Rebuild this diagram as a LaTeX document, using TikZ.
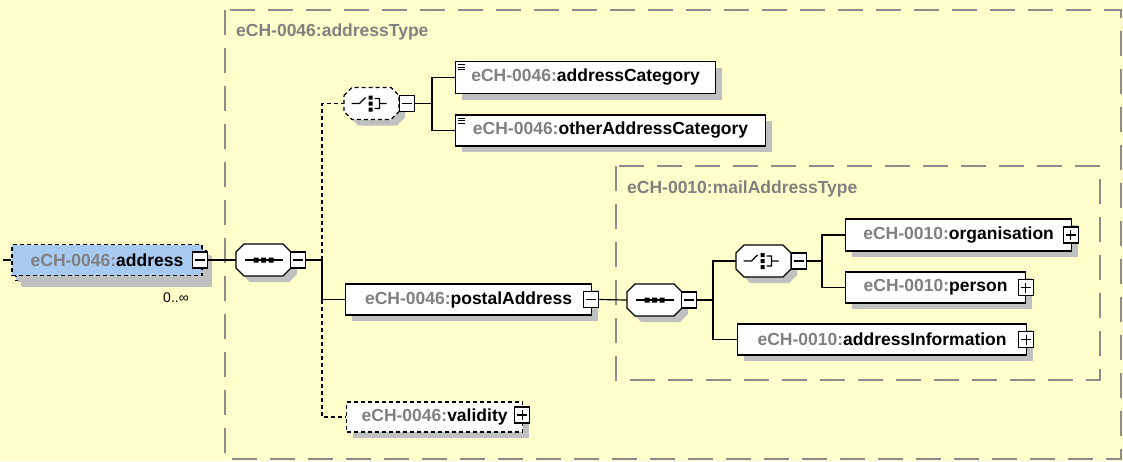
\documentclass[tikz,border=0pt]{standalone}
\usepackage{fontspec}
\setmainfont{Liberation Sans}
\usetikzlibrary{shadows, positioning}
\definecolor{bgyellow}{RGB}{255,255,204}
\definecolor{shadowgray}{RGB}{192,192,192}
\definecolor{framegray}{RGB}{140,140,140}
\definecolor{pfxgray}{RGB}{128,128,128}
\definecolor{addrblue}{RGB}{166,202,240}
\newcommand{\pfx}[1]{\textcolor{pfxgray}{#1}}
\tikzset{%
  % schema boxes
  shad/.style = {drop shadow={shadow xshift=6pt, shadow yshift=-6pt,
                  fill=shadowgray, opacity=1}},
  elem/.style = {rectangle, draw=black, fill=white, line width=1.2pt,
                  inner sep=0pt, minimum height=31,
                  font=\fontsize{17.5}{20}\selectfont\bfseries, shad},
  optline/.style = {dash pattern=on 4pt off 3pt},
  optelem/.style = {elem, optline},
  addrbox/.style = {elem, fill=addrblue, optline},
  % compositors: named place holder, octagon drawn on it
  compo/.style = {rectangle, minimum width=55, minimum height=32, inner sep=0pt},
  octa/.style = {insert path={(-27.5,-8) -- (-19.5,-16) -- (19.5,-16) -- (27.5,-8)
                  -- (27.5,8) -- (19.5,16) -- (-19.5,16) -- (-27.5,8) -- cycle}},
  compoline/.style = {draw=black, fill=white, line width=1.2pt},
  seqmark/.pic = {
      \draw[line width=1.2pt] (-19,0) -- (19,0);
      \fill (-10,-2.5) rectangle (-5,2.5) (-2.5,-2.5) rectangle (2.5,2.5)
            (5,-2.5) rectangle (10,2.5);},
  choicemark/.pic = {
      \draw[line width=1.2pt] (-20,0) -- (-12,0) -- (-6,-6)
            (3,-5) -- (8,-5) -- (8,5) -- (3,5) (8,0) -- (15,0);
      \fill (-3,-8) rectangle (1,-4) (-3,-2) rectangle (1,2) (-3,4) rectangle (1,8);},
  pmbox/.style = {rectangle, draw=black, fill=white, line width=1.2pt,
                  minimum width=15, minimum height=16, inner sep=0pt},
  minusbox/.style = {pmbox, path picture={%
      \draw[black, line width=1.2pt, shift={(path picture bounding box.center)}]
        (-5,0) -- (5,0);}},
  plusbox/.style = {pmbox, path picture={%
      \draw[black, line width=1.2pt, shift={(path picture bounding box.center)}]
        (-5,0) -- (5,0) (0,-5) -- (0,5);}},
  listicon/.style = {line width=1pt},
  frame/.style = {draw=framegray, line width=1.5pt, dash pattern=on 25pt off 13pt},
  frametitle/.style = {text=pfxgray, font=\fontsize{17.5}{20}\selectfont\bfseries,
                  inner sep=0pt, anchor=west},
  conn/.style = {line width=1.2pt},
  optconn/.style = {conn, optline}
}
\begin{document}
\begin{tikzpicture}[x=1pt, y=-1pt]
\useasboundingbox (0,0) rectangle (1123,461);
\fill[bgyellow] (0,0) rectangle (1123,461);

% type frames
\draw[frame] (225,10) rectangle (1121,459);
\node[frametitle] (adrtype) at (236,32) {eCH-0046:addressType};
\draw[frame] (616,166) rectangle (1100,380);
\node[frametitle] (mailtype) at (627,189) {eCH-0010:mailAddressType};

% root element
\node[addrbox, minimum width=190, drop shadow={shadow xshift=5pt,
      shadow yshift=-5pt, fill=shadowgray, opacity=1}] (addrstack) at (111,265) {};
\node[addrbox, minimum width=190, drop shadow={opacity=0}] (addr) at (107,260)
      {\pfx{eCH-0046:}address\hspace{10pt}};
\node[minusbox, xshift=-3] (addrm) at (addr.east) {};
\node[font=\fontsize{14}{16}\selectfont, inner sep=0pt] (addrocc) at (176,298) {0..∞};
\coordinate (lead) at (3,260);

% compositors
\node[compo] (seq1) at (263.5,260) {};
\node[compo] (ch1) at (371.5,103.5) {};
\node[compo] (seq2) at (654.5,300) {};
\node[compo] (ch2) at (763.5,261) {};
\foreach \n/\sty/\mark in {seq1/solid/seqmark, ch1/optline/choicemark,
                           seq2/solid/seqmark, ch2/solid/choicemark} {
  \fill[shadowgray, shift={(\n.center)}, shift={(6,6)}, octa];
  \path[compoline, \sty, shift={(\n.center)}, octa];
  \pic at (\n.center) {\mark};
}
\node[minusbox, right=-1pt of seq1] (seq1m) {};
\node[minusbox, right=0pt of ch1] (ch1m) {};
\node[minusbox, right=-1pt of seq2] (seq2m) {};
\node[minusbox, right=0pt of ch2] (ch2m) {};
\coordinate (j1) at (322,260);
\coordinate (j1b) at (322,299.5);
\coordinate (j2) at (432,103.5);
\coordinate (j3) at (713,300);
\coordinate (j4) at (822,261);

% addressType
\node[elem, anchor=west, minimum width=260, minimum height=32] (cat) at (455,77.5)
      {\pfx{eCH-0046:}addressCategory};
\node[elem, anchor=west, minimum width=310] (othercat) at (455,130.5)
      {\pfx{eCH-0046:}otherAddressCategory};
\foreach \n in {cat, othercat}
  \draw[listicon, shift={(\n.north west)}]
    (3,4) -- (10,4) (3,6.5) -- (10,6.5) (3,9) -- (10,9);

\node[elem, anchor=west, minimum width=246] (postal) at (345,299.5)
      {\pfx{eCH-0046:}postalAddress\hspace{8pt}};
\node[minusbox, xshift=-1] (postalm) at (postal.east) {};

\node[optelem, anchor=west, minimum width=176, minimum height=30] (valid) at (346,417)
      {\pfx{eCH-0046:}validity\hspace{8pt}};
\node[plusbox, xshift=-1, yshift=2] (validp) at (valid.east) {};

% mailAddressType
\node[elem, anchor=west, minimum width=226, minimum height=32] (org) at (845,235)
      {\pfx{eCH-0010:}organisation\hspace{8pt}};
\node[plusbox, xshift=-1.5] (orgp) at (org.east) {};
\node[elem, anchor=west, minimum width=180] (person) at (845,287.5)
      {\pfx{eCH-0010:}person\hspace{8pt}};
\node[plusbox, xshift=-0.5] (personp) at (person.east) {};
\node[elem, anchor=west, minimum width=289] (addrinfo) at (737,339.5)
      {\pfx{eCH-0010:}addressInformation\hspace{8pt}};
\node[plusbox, xshift=-1] (addrinfop) at (addrinfo.east) {};

% connectors
\draw[conn] (lead) -- (addr.west);
\draw[conn] (addrm.east) -- (seq1.west);
\draw[conn] (seq1m.east) -- (j1);
\draw[optconn] (j1) |- (ch1.west);
\draw[conn] (j1) |- (postal.west);
\draw[optconn] (j1b) |- (valid.west);
\draw[conn] (ch1m.east) -- (j2);
\draw[conn] (j2) |- (cat.west);
\draw[conn] (j2) |- (othercat.west);
\draw[conn] (postalm.east) -- (seq2.west);
\draw[conn] (seq2m.east) -- (j3);
\draw[conn] (j3) |- (ch2.west);
\draw[conn] (j3) |- (addrinfo.west);
\draw[conn] (ch2m.east) -- (j4);
\draw[conn] (j4) |- (org.west);
\draw[conn] (j4) |- (person.west);
\end{tikzpicture}
\end{document}
